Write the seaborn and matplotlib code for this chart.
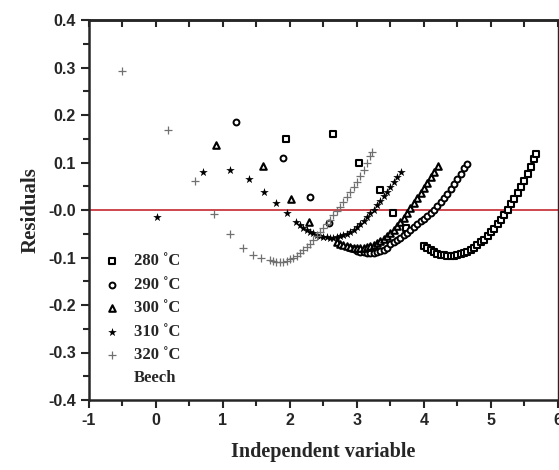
import numpy as np
import pandas as pd
import matplotlib
matplotlib.use("Agg")
import matplotlib.pyplot as plt
import seaborn as sns
from matplotlib.ticker import MultipleLocator

# residuals, one pair of lists per temperature
x280 = [1.94, 2.64, 3.03, 3.34, 3.54, 3.73, 4.00,
        4.05, 4.10, 4.15, 4.20, 4.25, 4.30, 4.35, 4.40, 4.45, 4.50, 4.55, 4.60,
        4.65, 4.70, 4.75, 4.80, 4.85, 4.90, 4.95, 5.00, 5.05, 5.10, 5.15, 5.20,
        5.25, 5.30, 5.35, 5.40, 5.45, 5.50, 5.55, 5.60, 5.65, 5.67]
y280 = [0.149, 0.160, 0.099, 0.042, -0.007, -0.038, -0.075,
        -0.080, -0.085, -0.089, -0.092, -0.094, -0.095, -0.096, -0.096, -0.096,
        -0.095, -0.093, -0.091, -0.088, -0.084, -0.079, -0.074, -0.068, -0.062,
        -0.055, -0.047, -0.039, -0.030, -0.020, -0.010, 0.001, 0.012, 0.024,
        0.036, 0.049, 0.062, 0.076, 0.091, 0.107, 0.118]

x290 = [1.20, 1.89, 2.30, 2.59,
        2.90, 2.95, 3.00, 3.05, 3.10, 3.15, 3.20, 3.25, 3.30, 3.35, 3.40, 3.45,
        3.50, 3.55, 3.60, 3.65, 3.70, 3.75, 3.80, 3.85, 3.90, 3.95, 4.00, 4.05,
        4.10, 4.15, 4.20, 4.25, 4.30, 4.35, 4.40, 4.45, 4.50, 4.55, 4.60, 4.64]
y290 = [0.186, 0.109, 0.027, -0.028,
        -0.080, -0.083, -0.086, -0.088, -0.089, -0.090, -0.090, -0.090, -0.089,
        -0.087, -0.084, -0.080, -0.072, -0.068, -0.063, -0.058, -0.053, -0.048,
        -0.042, -0.036, -0.030, -0.024, -0.018, -0.012, -0.006, 0.001, 0.008,
        0.016, 0.025, 0.034, 0.044, 0.054, 0.065, 0.076, 0.088, 0.098]

x300 = [0.90, 1.60, 2.01, 2.28,
        2.70, 2.75, 2.80, 2.85, 2.90, 2.95, 3.00, 3.05, 3.10, 3.15, 3.20, 3.25,
        3.30, 3.35, 3.40, 3.45, 3.50, 3.55, 3.60, 3.65, 3.70, 3.75, 3.80, 3.85,
        3.90, 3.95, 4.00, 4.05, 4.10, 4.15, 4.21]
y300 = [0.137, 0.092, 0.023, -0.026,
        -0.068, -0.071, -0.074, -0.076, -0.078, -0.079, -0.080, -0.080, -0.079,
        -0.078, -0.076, -0.073, -0.069, -0.065, -0.060, -0.054, -0.048, -0.041,
        -0.033, -0.025, -0.016, -0.006, 0.004, 0.014, 0.025, 0.036, 0.047, 0.058,
        0.069, 0.080, 0.092]

x310 = [0.01, 0.71, 1.10, 1.39, 1.61, 1.80, 1.95, 2.09,
        2.15, 2.20, 2.25, 2.30, 2.35, 2.40, 2.45, 2.50, 2.55, 2.60, 2.65, 2.70,
        2.75, 2.80, 2.85, 2.90, 2.95, 3.00, 3.05, 3.10, 3.15, 3.20, 3.25, 3.30,
        3.35, 3.40, 3.45, 3.50, 3.55, 3.60, 3.66]
y310 = [-0.015, 0.080, 0.084, 0.065, 0.038, 0.015, -0.006, -0.025,
        -0.032, -0.037, -0.042, -0.046, -0.049, -0.052, -0.054, -0.056, -0.057,
        -0.058, -0.058, -0.057, -0.055, -0.053, -0.050, -0.046, -0.041, -0.036,
        -0.030, -0.023, -0.015, -0.007, 0.001, 0.010, 0.019, 0.029, 0.039,
        0.049, 0.059, 0.069, 0.080]

x320 = [-0.51, 0.18, 0.59, 0.87, 1.10, 1.30, 1.45, 1.57,
        1.70, 1.75, 1.80, 1.85, 1.90, 1.95, 2.00, 2.05, 2.10, 2.15, 2.20, 2.25,
        2.30, 2.35, 2.40, 2.45, 2.50, 2.55, 2.60, 2.65, 2.70, 2.75, 2.80, 2.85,
        2.90, 2.95, 3.00, 3.05, 3.10, 3.15, 3.20, 3.22]
y320 = [0.293, 0.168, 0.061, -0.009, -0.050, -0.080, -0.094, -0.100,
        -0.106, -0.108, -0.110, -0.110, -0.109, -0.107, -0.104, -0.100, -0.096,
        -0.091, -0.085, -0.078, -0.071, -0.063, -0.055, -0.047, -0.038, -0.029,
        -0.020, -0.011, -0.002, 0.007, 0.017, 0.027, 0.038, 0.049, 0.060,
        0.072, 0.085, 0.099, 0.113, 0.122]

labels = ["280 ˚C", "290 ˚C", "300 ˚C", "310 ˚C", "320 ˚C"]

sns.set_style("ticks")
plt.rcParams["font.family"] = ["Liberation Sans", "DejaVu Sans"]
plt.rcParams["font.weight"] = "bold"
plt.rcParams["axes.unicode_minus"] = False

fig = plt.figure(figsize=(5.59, 4.70), dpi=100)
ax = fig.add_axes([0.159, 0.149, 0.839, 0.808])

series = [
    (x280, y280, dict(marker="s", s=16, facecolor="white", edgecolor="black", linewidth=1.5)),
    (x290, y290, dict(marker="o", s=18, facecolor="white", edgecolor="black", linewidth=1.4)),
    (x300, y300, dict(marker="^", s=22, facecolor="white", edgecolor="black", linewidth=1.5)),
    (x310, y310, dict(marker="*", s=42, color="black", linewidth=0)),
    (x320, y320, dict(marker="+", s=32, color="#707070", linewidth=0.9)),
]

for (xs, ys, kw), lab in zip(series, labels):
    df = pd.DataFrame({"x": xs, "y": ys})
    sns.scatterplot(data=df, x="x", y="y", ax=ax, label=lab, zorder=3, **kw)

ax.axhline(0, color="#c0161c", lw=1.1, zorder=2)

ax.set_xlim(-1, 6)
ax.set_ylim(-0.4, 0.4)
ax.xaxis.set_major_locator(MultipleLocator(1))
ax.xaxis.set_minor_locator(MultipleLocator(0.5))
ax.yaxis.set_minor_locator(MultipleLocator(0.05))
yt = np.round(np.arange(-0.4, 0.41, 0.1), 1)
ax.set_yticks(yt)
ax.set_yticklabels([f"{v:.1f}" for v in yt])

ax.tick_params(axis="both", which="both", direction="out", width=1.5,
               labelsize=11.5, top=False, right=False)
ax.tick_params(axis="both", which="major", length=6)
ax.tick_params(axis="both", which="minor", length=4)

# inward ticks along the top edge
top = ax.secondary_xaxis("top")
top.xaxis.set_major_locator(MultipleLocator(0.5))
top.tick_params(direction="in", length=5, width=1.5, labeltop=False)

for sp in ["left", "bottom"]:
    ax.spines[sp].set_linewidth(1.8)
top.spines["top"].set_linewidth(1.8)
ax.spines["top"].set_linewidth(1.8)
ax.spines["right"].set_linewidth(1.0)

serif = ["Liberation Serif", "DejaVu Serif"]
ax.set_xlabel("Independent variable", family=serif, fontsize=14.5,
              fontweight="bold", labelpad=10)
ax.set_ylabel("Residuals", family=serif, fontsize=15, fontweight="bold",
              labelpad=5)

leg = ax.legend(loc="lower left", bbox_to_anchor=(0.0, 0.07), frameon=False,
                prop={"family": serif, "weight": "bold", "size": 12},
                handletextpad=0.5, labelspacing=0.45, borderaxespad=0.2,
                handlelength=1.6)
ax.text(0.096, 0.036, "Beech", transform=ax.transAxes, family=serif,
        fontsize=12, fontweight="bold", va="bottom")

fig.savefig("out.png", dpi=100)
